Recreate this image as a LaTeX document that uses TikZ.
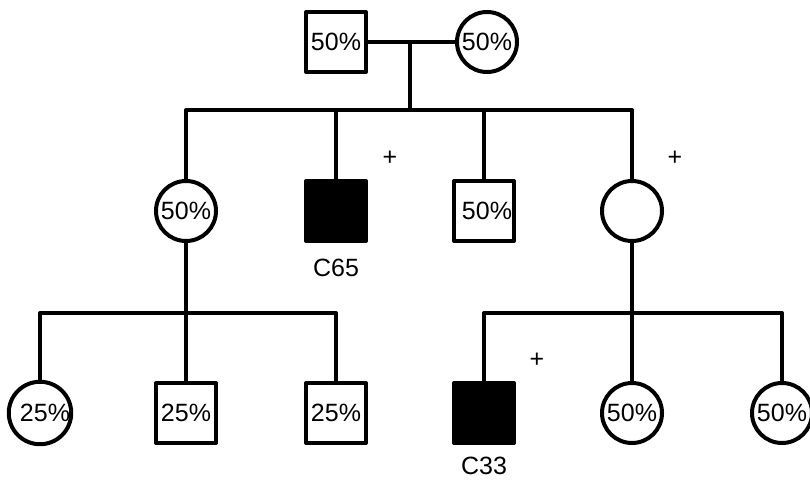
\documentclass[tikz,border=0pt]{standalone}
\usepackage{fontspec}
\setmainfont{Liberation Sans}
\begin{document}
\begin{tikzpicture}[x=1pt,y=-1pt,line width=4pt,line join=round,
  male/.style={rectangle,draw,minimum size=60pt,inner sep=0pt,font=\fontsize{25}{25}\selectfont},
  female/.style={circle,draw,minimum size=60pt,inner sep=0pt,font=\fontsize{25}{25}\selectfont},
  affected/.style={male,fill=black},
  lbl/.style={font=\fontsize{25}{25}\selectfont},
  plus/.style={font=\fontsize{25}{25}\selectfont}]
\useasboundingbox (0,0) rectangle (810,481);
\node[male] at (336,42) (f) {50\%};
\node[female] at (487,42) (m) {50\%};
\coordinate (mm) at (410,42);
\coordinate (s1) at (410,110);
\node[female] at (186,211) (c1) {50\%};
\node[affected] at (336,211) (c2) {};
\node[male] at (484,211) (c3) {\hspace{6pt}50\%};
\node[female] at (632,211) (c4) {};
\coordinate (s2) at (186,313);
\coordinate (s3) at (632,313);
\node[female] at (40,413) (d1) {\hspace{10pt}25\%};
\node[male] at (186,413) (d2) {25\%};
\node[male] at (336,413) (d3) {25\%};
\node[affected] at (484,413) (e1) {};
\node[female] at (632,413) (e2) {50\%};
\node[female] at (782,413) (e3) {50\%};
\node[lbl] at (336,268) (l1) {C65};
\node[lbl] at (484,466) (l2) {C33};
\node[plus] at (390,158) (p1) {+};
\node[plus] at (675,158) (p2) {+};
\node[plus] at (537,360) (p3) {+};
\draw (f) -- (m);
\draw (mm) -- (s1);
\draw (c1.north) |- (s1) -| (c4.north);
\draw (c2.north) -- (c2.north |- s1);
\draw (c3.north) -- (c3.north |- s1);
\draw (c1.south) -- (s2);
\draw (d1.north) |- (s2) -| (d3.north);
\draw (d2.north) -- (s2);
\draw (c4.south) -- (s3);
\draw (e1.north) |- (s3) -| (e3.north);
\draw (e2.north) -- (s3);
\end{tikzpicture}
\end{document}
